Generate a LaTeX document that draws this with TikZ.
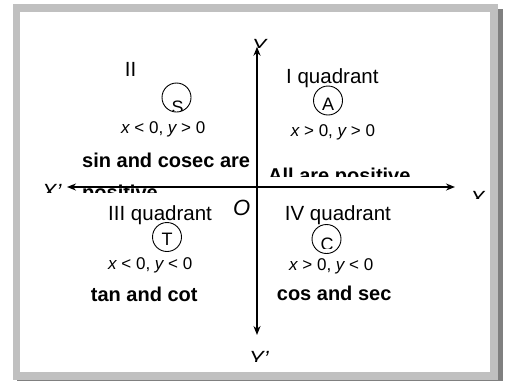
\documentclass[tikz,border=0pt]{standalone}
\usepackage{fontspec}
\setmainfont{Liberation Sans}
\usetikzlibrary{arrows.meta}
\definecolor{frameL}{HTML}{C0C0C0}
\definecolor{frameD}{HTML}{808080}
\begin{document}
\begin{tikzpicture}[x=1pt,y=-1pt,
  lbl/.style={font=\fontsize{20.5}{24}\selectfont, inner sep=0, anchor=base west},
  bld/.style={font=\fontsize{20}{24}\selectfont\bfseries, inner sep=0, anchor=base west},
  cond/.style={font=\fontsize{17}{20}\selectfont, inner sep=0, anchor=base west},
  axlbl/.style={font=\fontsize{22}{26}\selectfont\itshape, inner sep=0, anchor=base west},
  qcirc/.style={draw, circle, minimum size=29pt, inner sep=0, line width=0.9pt},
  qlet/.style={font=\fontsize{18}{21}\selectfont, inner sep=0, anchor=base},
  axisline/.style={line width=2.2pt, {Stealth[length=9pt,width=7pt]}-{Stealth[length=9pt,width=7pt]}}]
\useasboundingbox (0,0) rectangle (508,381);
\fill[white] (0,0) rectangle (508,381);
% frame
\fill[frameD] (498,9) rectangle (503,381);
\fill[frameD] (17,379.5) rectangle (503,381);
\fill[frameL] (13,4) rectangle (498,380);
\fill[white] (20,12) rectangle (490,372);
% axes
\coordinate (xl) at (67,187);
\coordinate (xr) at (455,187);
\coordinate (yt) at (257,46.7);
\coordinate (yb) at (257,335);
% clipped texts
\begin{scope}\clip (0,0) rectangle (508,192);
  \node[bld] (pos) at (82,199.5) {positive};
\end{scope}
\begin{scope}\clip (0,0) rectangle (508,176);
  \node[bld] (allpos) at (268,182) {All are positive};
\end{scope}
\begin{scope}\clip (0,0) rectangle (508,192);
  \node[axlbl] (xlab1) at (41.7,199) {X'};
\end{scope}
\begin{scope}\clip (0,0) rectangle (508,198);
  \node[axlbl] (xlab2) at (470,206) {X};
\end{scope}
\begin{scope}\clip (0,0) rectangle (508,47);
  \node[axlbl] (ylab1) at (251.7,54) {Y};
\end{scope}
\begin{scope}\clip (0,0) rectangle (508,361);
  \node[axlbl] (ylab2) at (249,366) {Y'};
\end{scope}
\draw[axisline] (xl) -- (xr);
\draw[axisline] (yb) -- (yt);
% quadrant II
\node[lbl, anchor=base] (q2) at (130.5,76) {II};
\node[qcirc] (cS) at (176.5,97.5) {};
\begin{scope}\clip (0,0) rectangle (508,110);
  \node[qlet] (lS) at (177.5,113) {S};
\end{scope}
\node[cond] (c2) at (121,133) {\itshape x\upshape{} < 0, \itshape y\upshape{} > 0};
\node[bld] (sin) at (82,167) {sin and cosec are};
% quadrant I
\node[lbl] (q1) at (286,83) {I quadrant};
\node[qcirc] (cA) at (328,100.5) {};
\node[qlet] (lA) at (328,110.5) {A};
\node[cond] (c1) at (290.7,136) {\itshape x\upshape{} > 0, \itshape y\upshape{} > 0};
% quadrant III
\node[lbl] (q3) at (108,220) {III quadrant};
\node[qcirc] (cT) at (167,237) {};
\node[qlet] (lT) at (167,245.5) {T};
\node[cond] (c3) at (108,269) {\itshape x\upshape{} < 0, \itshape y\upshape{} < 0};
\node[bld] (tan) at (90.7,301) {tan and cot};
% quadrant IV
\node[lbl] (q4) at (284.7,220) {IV quadrant};
\node[qcirc] (cC) at (326.5,239) {};
\begin{scope}\clip (0,0) rectangle (508,248);
  \node[qlet] (lC) at (327,250) {C};
\end{scope}
\node[cond] (c4) at (289,270) {\itshape x\upshape{} > 0, \itshape y\upshape{} < 0};
\node[bld] (cos) at (276.7,300) {cos and sec};
% origin
\node[axlbl] (O) at (233,215) {O};
\end{tikzpicture}
\end{document}
